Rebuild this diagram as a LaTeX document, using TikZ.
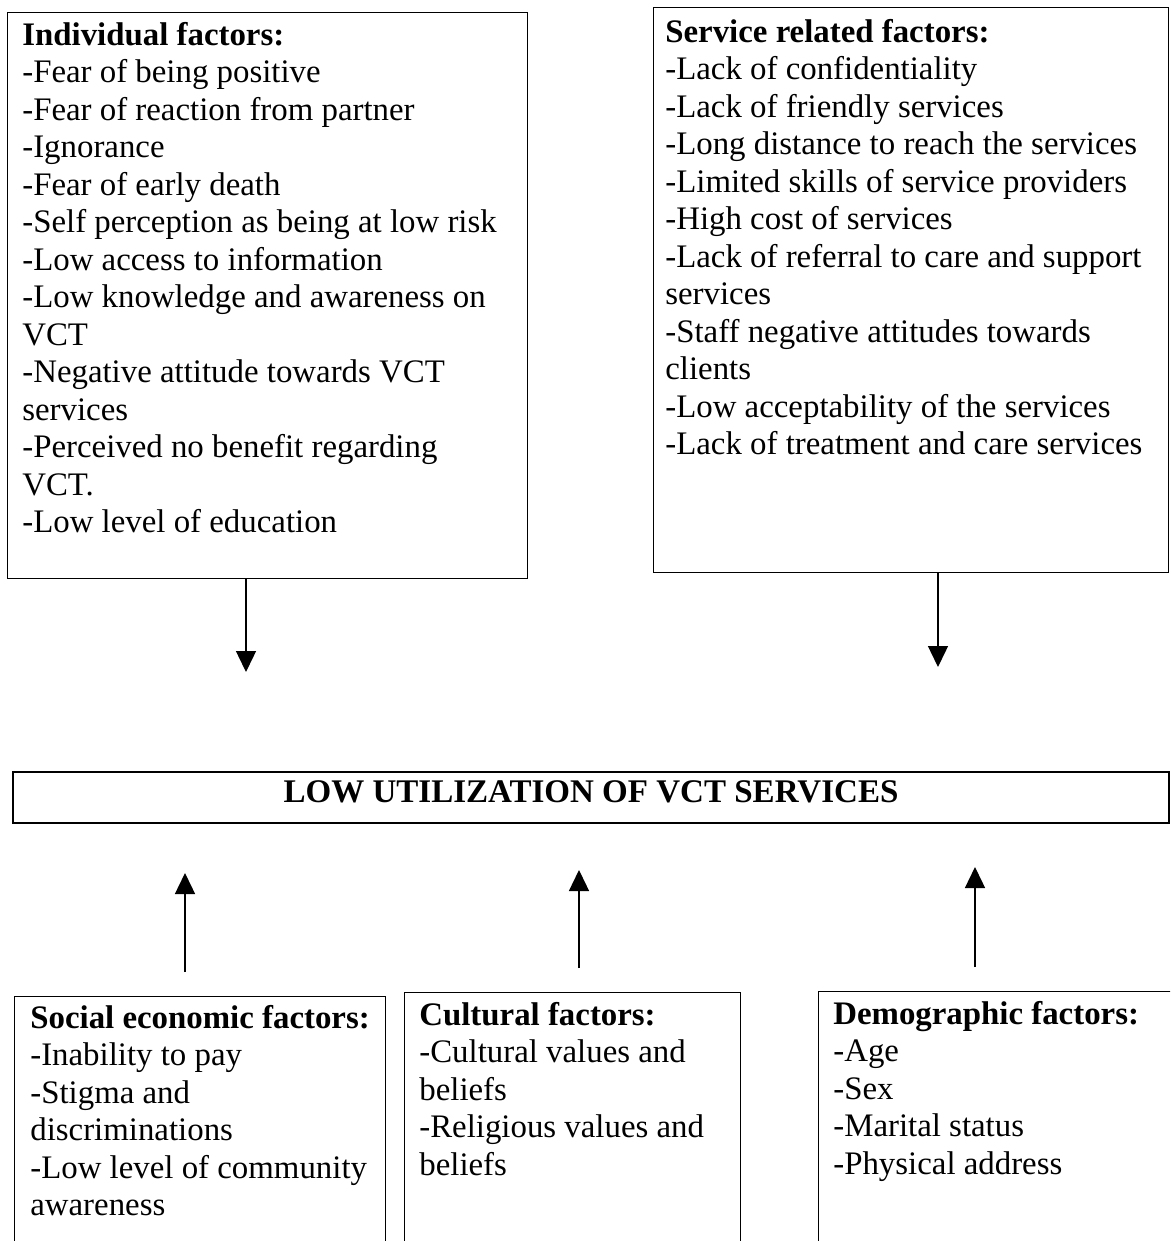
\documentclass[tikz,border=0pt]{standalone}
\usepackage{fontspec}
\setmainfont{Liberation Serif}
\usetikzlibrary{arrows.meta}
\tikzset{
  fbox/.style={draw, line width=0.7pt, rectangle, inner sep=0pt, anchor=north west},
  txt/.style={inner sep=0pt, anchor=north west, align=left,
              font=\fontsize{18.7pt}{21.34pt}\selectfont},
  arr/.style={line width=0.8pt, -{Triangle[width=0.4cm,length=0.42cm]}}
}
\begin{document}
\begin{tikzpicture}[x=0.02cm,y=-0.02cm]
\useasboundingbox (0,0) rectangle (1170,1241);
\clip (0,0) rectangle (1170,1241);
% top boxes
\node[fbox, minimum width=520*0.02cm, minimum height=566*0.02cm] (ind) at (7,12) {};
\node[txt] (indT) at (22,18.75) {\strut\textbf{Individual factors:}\\
-Fear of being positive\\
-Fear of reaction from partner\\
-Ignorance\\
-Fear of early death\\
-Self perception as being at low risk\\
-Low access to information\\
-Low knowledge and awareness on\\
VCT\\
-Negative attitude towards VCT\\
services\\
-Perceived no benefit regarding\\
VCT.\\
-Low level of education};
\node[fbox, minimum width=515*0.02cm, minimum height=565*0.02cm] (srv) at (653,7) {};
\node[txt] (srvT) at (665,15.75) {\strut\textbf{Service related factors:}\\
-Lack of confidentiality\\
-Lack of friendly services\\
-Long distance to reach the services\\
-Limited skills of service providers\\
-High cost of services\\
-Lack of referral to care and support\\
services\\
-Staff negative attitudes towards\\
clients\\
-Low acceptability of the services\\
-Lack of treatment and care services};
% central box
\node[draw, line width=0.7pt, inner sep=0pt, minimum width=1156*0.02cm, minimum height=51*0.02cm,
      text height=0.44cm, text depth=0.26cm,
      font=\fontsize{18.8pt}{21.34pt}\selectfont\bfseries] (low) at (591,797.5) {LOW UTILIZATION OF VCT SERVICES};
% bottom boxes
\node[fbox, minimum width=371*0.02cm, minimum height=254*0.02cm] (soc) at (14,996) {};
\node[txt] (socT) at (30,1001.75) {\strut\textbf{Social economic factors:}\\
-Inability to pay\\
-Stigma and\\
discriminations\\
-Low level of community\\
awareness};
\node[fbox, minimum width=336*0.02cm, minimum height=258*0.02cm] (cul) at (404,992) {};
\node[txt] (culT) at (419,998.75) {\strut\textbf{Cultural factors:}\\
-Cultural values and\\
beliefs\\
-Religious values and\\
beliefs};
\node[fbox, minimum width=362*0.02cm, minimum height=259*0.02cm] (dem) at (818,991) {};
\node[txt] (demT) at (833,997.75) {\strut\textbf{Demographic factors:}\\
-Age\\
-Sex\\
-Marital status\\
-Physical address};
% arrows
\coordinate (d1) at (246,672);
\coordinate (d2) at (938,667);
\draw[arr] (ind.south -| d1) -- (d1);
\draw[arr] (srv.south -| d2) -- (d2);
\coordinate (u1a) at (185,972); \coordinate (u1b) at (185,873);
\coordinate (u2a) at (579,968); \coordinate (u2b) at (579,870);
\coordinate (u3a) at (975,967); \coordinate (u3b) at (975,867);
\draw[arr] (u1a) -- (u1b);
\draw[arr] (u2a) -- (u2b);
\draw[arr] (u3a) -- (u3b);
\end{tikzpicture}
\end{document}
